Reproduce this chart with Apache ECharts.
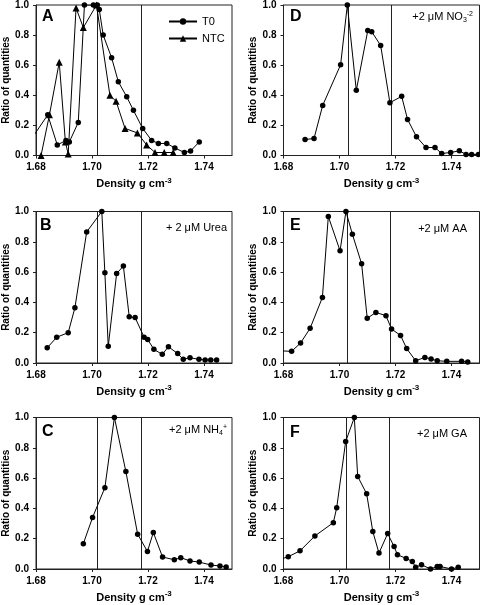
<!DOCTYPE html>
<html><head><meta charset="utf-8">
<script src="https://cdn.jsdelivr.net/npm/echarts@6/dist/echarts.min.js"></script>
<style>html,body{margin:0;padding:0;background:#fff}#c{width:480px;height:605px}</style>
</head><body><div id="c"></div>
<script>
// ---- data ----
const xTicks = [1.68, 1.70, 1.72, 1.74];
const yTicks = [0, 0.2, 0.4, 0.6, 0.8, 1.0];

const A_T0_x = [1.678, 1.6842, 1.6876, 1.6907, 1.6919, 1.6951, 1.6973, 1.7005, 1.7019, 1.7026, 1.7040, 1.7070, 1.7094, 1.7124, 1.7148, 1.7181, 1.7213, 1.7237, 1.7267, 1.7296, 1.7330, 1.7352, 1.7383];
const A_T0_y = [0.10, 0.27, 0.07, 0.10, 0.09, 0.22, 1.0, 1.0, 1.0, 0.97, 0.80, 0.65, 0.49, 0.39, 0.30, 0.18, 0.10, 0.08, 0.08, 0.05, 0.02, 0.03, 0.09];
const A_NTC_x = [1.6818, 1.6848, 1.6883, 1.6905, 1.6915, 1.6943, 1.6969, 1.7016, 1.7064, 1.7086, 1.7118, 1.7162, 1.7195, 1.7225, 1.7258, 1.7290];
const A_NTC_y = [0.0, 0.27, 0.62, 0.09, 0.01, 0.98, 0.85, 1.0, 0.40, 0.36, 0.18, 0.15, 0.07, 0.02, 0.02, 0.02];

const B_x = [1.6840, 1.6874, 1.6915, 1.6939, 1.6981, 1.7035, 1.7046, 1.7058, 1.7088, 1.7112, 1.7133, 1.7154, 1.7186, 1.7199, 1.7221, 1.7251, 1.7273, 1.7306, 1.7326, 1.7350, 1.7382, 1.7404, 1.7424, 1.7445];
const B_y = [0.10, 0.17, 0.20, 0.365, 0.865, 1.0, 0.595, 0.11, 0.59, 0.64, 0.305, 0.30, 0.17, 0.155, 0.09, 0.057, 0.107, 0.062, 0.024, 0.035, 0.024, 0.02, 0.02, 0.02];

const C_x = [1.6969, 1.7002, 1.7046, 1.7080, 1.7121, 1.7163, 1.7198, 1.7219, 1.7252, 1.7294, 1.7317, 1.7350, 1.7383, 1.7425, 1.7457, 1.7479];
const C_y = [0.167, 0.34, 0.537, 1.0, 0.643, 0.23, 0.116, 0.241, 0.079, 0.061, 0.075, 0.053, 0.046, 0.026, 0.02, 0.013];

const D_x = [1.6877, 1.6909, 1.6940, 1.7004, 1.7028, 1.7060, 1.7101, 1.7115, 1.7147, 1.7180, 1.7222, 1.7243, 1.7275, 1.7309, 1.7341, 1.7365, 1.7397, 1.7428, 1.7452, 1.7472, 1.7496];
const D_y = [0.106, 0.113, 0.333, 0.603, 1.0, 0.433, 0.83, 0.823, 0.731, 0.351, 0.393, 0.24, 0.124, 0.053, 0.053, 0.013, 0.02, 0.031, 0.007, 0.007, 0.007];

const E_x = [1.679, 1.6829, 1.6861, 1.6895, 1.6939, 1.6960, 1.7002, 1.7023, 1.7046, 1.7079, 1.7099, 1.7130, 1.7166, 1.7186, 1.7218, 1.7240, 1.7272, 1.7305, 1.7327, 1.7349, 1.7383, 1.7436, 1.7458];
const E_y = [0.08, 0.077, 0.132, 0.229, 0.433, 0.967, 0.741, 1.0, 0.85, 0.655, 0.295, 0.334, 0.312, 0.224, 0.182, 0.095, 0.015, 0.037, 0.026, 0.015, 0.011, 0.011, 0.007];

const F_x = [1.679, 1.6817, 1.6859, 1.6912, 1.6978, 1.6990, 1.7022, 1.7053, 1.7065, 1.7097, 1.7119, 1.7141, 1.7172, 1.7195, 1.7207, 1.7238, 1.7260, 1.7272, 1.7293, 1.7325, 1.7349, 1.7359, 1.7400, 1.7424];
const F_y = [0.065, 0.081, 0.12, 0.218, 0.306, 0.404, 0.841, 1.0, 0.611, 0.496, 0.247, 0.105, 0.234, 0.148, 0.094, 0.07, 0.05, 0.011, 0.028, 0.0, 0.017, 0.017, 0.0, 0.011];

const vLines = {A:[1.702,1.7175], B:[1.702,1.7175], C:[1.702,1.7175], D:[1.703,1.7185], E:[1.7026,1.7183], F:[1.7023,1.7178]};
const panelLetters = ['A','B','C','D','E','F'];
const annotations = {B:'+ 2 μM Urea', C:'+2 μM NH{sub|4}{sup|+}', D:'+2 μM NO{sub|3}{sup|-2}', E:'+2 μM AA', F:'+2 μM GA'};
const xName = 'Density g cm';
const yName = 'Ratio of quantities';

// ---- layout ----
const FONT = '"Liberation Sans", Arial, sans-serif';
const grids = {
  A:{left:36, top:4}, B:{left:36, top:211.5}, C:{left:36, top:417.5},
  D:{left:283.5, top:4}, E:{left:283.5, top:211.5}, F:{left:283.5, top:417.5}
};
const GW = 196, GH = 151.5;
const ink = '#222';

const chart = echarts.init(document.getElementById('c'), null, {renderer:'canvas'});
const option = {
  backgroundColor:'#fff',
  animation:false,
  grid:[], xAxis:[], yAxis:[], series:[], graphic:[],
  legend:{
    data:['T0','NTC'], orient:'vertical', left:163, top:11,
    itemWidth:28, itemHeight:8, itemGap:6,
    textStyle:{fontFamily:FONT, fontSize:11, color:'#000'}
  }
};

panelLetters.forEach((k,i)=>{
  const g = grids[k];
  option.grid.push({left:g.left, top:g.top, width:GW, height:GH, show:true, borderColor:ink, borderWidth:1, backgroundColor:'#fff', containLabel:false});
  option.xAxis.push({
    type:'value', gridIndex:i, min:1.68, max:1.75, interval:0.02,
    axisLine:{show:true, onZero:false, lineStyle:{color:ink, width:1}},
    axisTick:{show:true, length:3, inside:false, lineStyle:{color:ink}},
    splitLine:{show:false},
    axisLabel:{showMaxLabel:false, margin:7, fontFamily:FONT, fontSize:10, fontWeight:'bold', color:'#000',
      formatter:v=> xTicks.some(t=>Math.abs(t-v)<1e-6) ? v.toFixed(2) : ''},
    name: xName + '{sup|-3}', nameLocation:'middle', nameGap:21,
    nameTextStyle:{fontFamily:FONT, fontSize:11, fontWeight:'bold', color:'#000',
      rich:{sup:{fontFamily:FONT, fontSize:8, fontWeight:'bold', color:'#000', padding:[0,0,7,0]}}}
  });
  option.yAxis.push({
    type:'value', gridIndex:i, min:0, max:1, interval:0.2,
    axisLine:{show:true, lineStyle:{color:ink, width:1}},
    axisTick:{show:true, length:3, lineStyle:{color:ink}},
    splitLine:{show:false},
    axisLabel:{margin:7, fontFamily:FONT, fontSize:10, fontWeight:'bold', color:'#000',
      formatter:v=> yTicks.some(t=>Math.abs(t-v)<1e-6) ? v.toFixed(1) : ''},
    name: yName, nameLocation:'middle', nameGap:24,
    nameTextStyle:{fontFamily:FONT, fontSize:10, fontWeight:'bold', color:'#000'}
  });
});

function mk(name, xs, ys, idx, sym, size, withLines){
  const s = {
    name:name, type:'line', xAxisIndex:idx, yAxisIndex:idx,
    data: xs.map((x,j)=>[x, ys[j]]),
    symbol:sym, symbolSize:size, showAllSymbol:true, clip:true,
    lineStyle:{color:'#000', width:1}, itemStyle:{color:'#000'},
    emphasis:{disabled:true}, z:3
  };
  if (withLines){
    s.markLine = {silent:true, precision:5, symbol:['none','none'], label:{show:false},
      lineStyle:{color:ink, width:1, type:'solid'}, z:2,
      data: vLines[panelLetters[idx]].map(v=>({xAxis:v}))};
  }
  return s;
}

option.series.push(mk('T0', A_T0_x, A_T0_y, 0, 'circle', 5.5, true));
option.series.push(mk('NTC', A_NTC_x, A_NTC_y, 0, 'triangle', 7, false));
option.series.push(mk('B', B_x, B_y, 1, 'circle', 5.5, true));
option.series.push(mk('C', C_x, C_y, 2, 'circle', 5.5, true));
option.series.push(mk('D', D_x, D_y, 3, 'circle', 5.5, true));
option.series.push(mk('E', E_x, E_y, 4, 'circle', 5.5, true));
option.series.push(mk('F', F_x, F_y, 5, 'circle', 5.5, true));

// panel letters
const letterPos = {A:[42,18], B:[40,227], C:[42,433], D:[290,18], E:[290,226.5], F:[290,433.5]};
panelLetters.forEach(k=>{
  option.graphic.push({type:'text', left:letterPos[k][0], top:letterPos[k][1]-9, z:10,
    style:{text:k, fontFamily:FONT, fontSize:16, fontWeight:'bold', fill:'#000'}});
});
// annotations
const annoPos = {B:[227,228], C:[227,430], D:[473,17], E:[467,228.5], F:[467,433.5]};
Object.keys(annotations).forEach(k=>{
  option.graphic.push({type:'text', z:10, x:annoPos[k][0], y:annoPos[k][1],
    style:{text:annotations[k], align:'right', verticalAlign:'middle', fontFamily:FONT, fontSize:11, fill:'#000',
      rich:{
        sub:{fontFamily:FONT, fontSize:7, fill:'#000', padding:[6,0,0,0]},
        sup:{fontFamily:FONT, fontSize:7, fill:'#000', padding:[0,0,6,0]}
      }}});
});

chart.setOption(option);
</script>
</body></html>
